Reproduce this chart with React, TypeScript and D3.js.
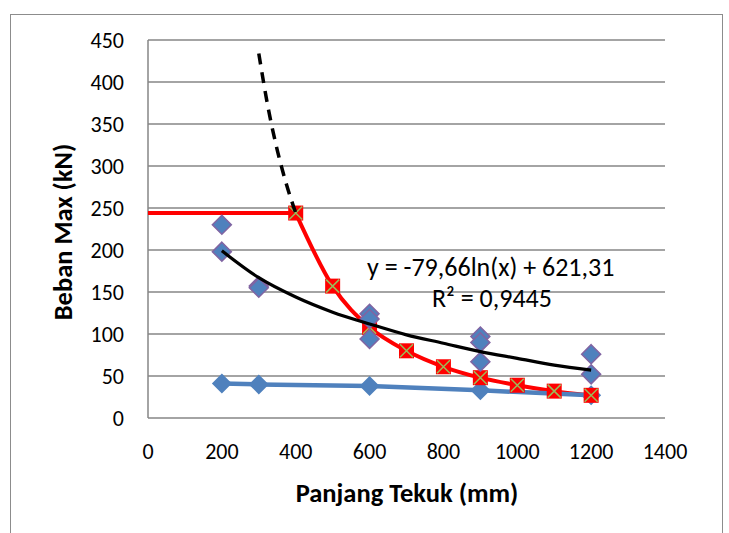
import React from 'react';
import * as d3 from 'd3';

// blue series (line + diamond)
const blueX = [200, 300, 600, 900, 1200];
const blueY = [41, 40, 38, 33, 27];

// test scatter points (purple outlined diamonds)
const testX = [200, 200, 300, 300, 600, 600, 600, 900, 900, 900, 1200, 1200];
const testY = [230, 198, 157, 155, 124, 118, 94, 97, 90, 67, 76, 52];

// euler curve (red, smooth) + plateau
const eulerX = [400, 500, 600, 700, 800, 900, 1000, 1100, 1200];
const eulerY = [244, 157, 108, 80, 61, 48, 39, 32, 27];
const plateauX = [0, 400];
const plateauY = [244, 244];

// dashed extension of euler curve
const dashX = [300, 325, 350, 375, 400];
const dashY = [434, 370, 319, 278, 244];

// logarithmic trendline
const trendX = [200, 300, 400, 500, 600, 700, 800, 900, 1000, 1100, 1200];
const trendY = [199, 167, 144, 126, 112, 99, 89, 79, 71, 63, 57];

const xTicks = [0, 200, 400, 600, 800, 1000, 1200, 1400];
const yTicks = [0, 50, 100, 150, 200, 250, 300, 350, 400, 450];

const font = "Carlito, Calibri, Lato, 'Open Sans', sans-serif";

export default function App() {
  const width = 729, height = 533;
  const x = d3.scaleLinear().domain([0, 1400]).range([148, 665]);
  const y = d3.scaleLinear().domain([0, 450]).range([418, 40]);

  const line = d3.line<[number, number]>().x(d => x(d[0])).y(d => y(d[1]));
  const smooth = d3.line<[number, number]>().x(d => x(d[0])).y(d => y(d[1])).curve(d3.curveMonotoneX);
  const zip = (a: number[], b: number[]) => a.map((v, i) => [v, b[i]] as [number, number]);

  const diamond = (cx: number, cy: number, r: number) =>
    `M${cx},${cy - r}L${cx + r},${cy}L${cx},${cy + r}L${cx - r},${cy}Z`;

  return (
    <div style={{ position: 'absolute', left: 0, top: 0 }}>
      <svg width={width} height={height} style={{ display: 'block', fontFamily: font }}>
        <rect x={0} y={0} width={width} height={height} fill="#fff" />
        <rect x={10.5} y={14.5} width={712} height={540} fill="none" stroke="#8c8c8c" strokeWidth={1} />

        {yTicks.map(t => (
          <g key={t}>
            {t > 0 && <line x1={148} x2={665} y1={y(t)} y2={y(t)} stroke="#868686" strokeWidth={1.5} />}
            <text x={124} y={y(t)} dy="0.36em" textAnchor="end" fontSize={22} fill="#000">{t}</text>
          </g>
        ))}
        <line x1={148} x2={148} y1={40} y2={418} stroke="#868686" strokeWidth={1.5} />
        <line x1={148} x2={665} y1={418} y2={418} stroke="#868686" strokeWidth={1.5} />
        {xTicks.map(t => (
          <text key={t} x={x(t)} y={459} textAnchor="middle" fontSize={22} fill="#000">{t}</text>
        ))}

        <text transform={`translate(72,232) rotate(-90)`} textAnchor="middle" fontSize={26.5} fontWeight="bold">Beban Max (kN)</text>
        <text x={407} y={502} textAnchor="middle" fontSize={26.5} fontWeight="bold">Panjang Tekuk (mm)</text>

        {/* red plateau + euler curve */}
        <path d={line(zip(plateauX, plateauY)) || ''} fill="none" stroke="#ff0000" strokeWidth={4} />
        <path d={smooth(zip(eulerX, eulerY)) || ''} fill="none" stroke="#ff0000" strokeWidth={4} />

        {/* blue line */}
        <path d={line(zip(blueX, blueY)) || ''} fill="none" stroke="#4f81bd" strokeWidth={4.5} />
        {blueX.map((v, i) => (
          <path key={'b' + i} d={diamond(x(v), y(blueY[i]), 10)} fill="#4f81bd" />
        ))}

        {eulerX.map((v, i) => {
          const cx = x(v), cy = y(eulerY[i]), s = 7.5;
          return (
            <g key={'e' + i}>
              <rect x={cx - s} y={cy - s} width={2 * s} height={2 * s} fill="#ff0000" />
              <path d={`M${cx - s + 1},${cy - s + 1}L${cx + s - 1},${cy + s - 1}M${cx - s + 1},${cy + s - 1}L${cx + s - 1},${cy - s + 1}`} stroke="#9bbb59" strokeWidth={1.5} />
            </g>
          );
        })}

        {testX.map((v, i) => (
          <path key={'t' + i} d={diamond(x(v), y(testY[i]), 9.5)} fill="#4f81bd" stroke="#8064a2" strokeWidth={1.5} />
        ))}

        {/* dashed euler extension */}
        <path d={smooth(zip(dashX, dashY)) || ''} fill="none" stroke="#000" strokeWidth={3.5} strokeDasharray="11,8" />
        {/* log trendline */}
        <path d={smooth(zip(trendX, trendY)) || ''} fill="none" stroke="#000" strokeWidth={3.2} />

        <text x={367} y={276} fontSize={26}>y = -79,66ln(x) + 621,31</text>
        <text x={432} y={307} fontSize={26}>R² = 0,9445</text>
      </svg>
    </div>
  );
}
